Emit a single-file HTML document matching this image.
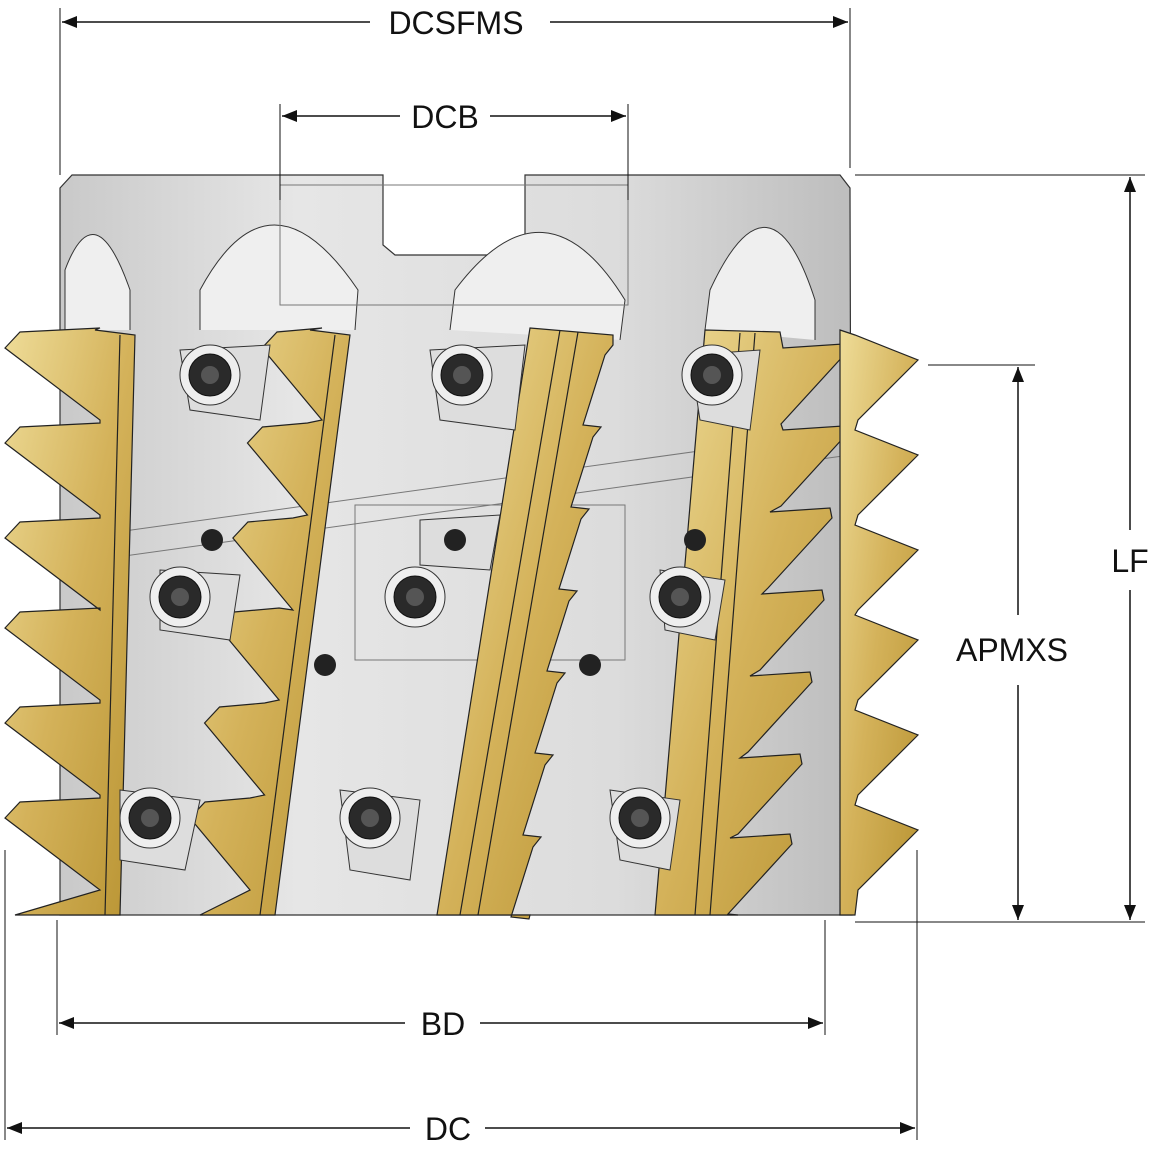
<!DOCTYPE html><html><head><meta charset="utf-8"><style>
body{margin:0;background:#fff;width:1150px;height:1153px;overflow:hidden}
svg{display:block}
text{font-family:"Liberation Sans",sans-serif;font-size:32px;fill:#111}
</style></head><body>
<svg id="s" width="1150" height="1153" viewBox="0 0 1150 1153">
<defs>
<linearGradient id="body" x1="0" x2="1">
<stop offset="0" stop-color="#c9c9c9"/><stop offset=".3" stop-color="#e6e6e6"/><stop offset=".7" stop-color="#dcdcdc"/><stop offset="1" stop-color="#bdbdbd"/></linearGradient>
<linearGradient id="gd" x1="0" x2="1" y1="0" y2="1">
<stop offset="0" stop-color="#eedc98"/><stop offset=".5" stop-color="#d4b25a"/><stop offset="1" stop-color="#b99433"/></linearGradient>
<marker id="a" viewBox="0 0 10 10" refX="10" refY="5" markerWidth="10" markerHeight="10" orient="auto-start-reverse"><path d="M0,1 L10,5 L0,9z" fill="#111"/></marker>
</defs>
<path d="M60,188 L72,175 L383,175 L383,245 L395,255 L515,255 L525,245 L525,175 L840,175 L850,188 L852,915 L60,915 Z" fill="url(#body)" stroke="#333" stroke-width="1.2"/>
<g fill="#efefef" stroke="#333" stroke-width="1">
<path d="M65,330 L65,270 Q95,190 130,290 L130,330"/>
<path d="M200,330 L200,290 Q270,160 358,290 L355,330"/>
<path d="M450,330 L455,290 Q545,170 625,300 L620,340"/>
<path d="M705,330 L710,290 Q770,160 815,300 L815,340"/>
</g>
<g fill="none" stroke="#777" stroke-width="1">
<rect x="280" y="185" width="348" height="120"/><rect x="355" y="505" width="270" height="155"/>
<path d="M60,540 L850,430 M60,565 L850,455"/>
</g>
<g id="goldg"></g>
<g fill="#ddd" stroke="#333" stroke-width="1">
<path d="M180,350 L270,345 L260,420 L190,410Z"/><path d="M430,350 L525,345 L515,430 L440,420Z"/>
<path d="M690,355 L760,350 L750,430 L700,420Z"/>
<path d="M420,520 L500,515 L490,570 L420,565Z"/><path d="M160,570 L240,575 L230,640 L160,630Z"/>
<path d="M660,570 L725,580 L715,640 L665,630Z"/>
<path d="M120,790 L200,800 L185,870 L120,860Z"/><path d="M340,790 L420,800 L410,880 L350,870Z"/>
<path d="M610,790 L680,800 L670,870 L620,860Z"/>
</g>
<g id="screws"></g>
<g stroke="#111" stroke-width="1.5" fill="none">
<line x1="60" y1="8" x2="60" y2="175" stroke-width="1"/><line x1="850" y1="8" x2="850" y2="168" stroke-width="1"/>
<line x1="280" y1="104" x2="280" y2="200" stroke-width="1"/><line x1="628" y1="104" x2="628" y2="200" stroke-width="1"/>
<line x1="855" y1="175" x2="1145" y2="175" stroke-width="1"/><line x1="855" y1="922" x2="1145" y2="922" stroke-width="1"/>
<line x1="928" y1="365" x2="1035" y2="365" stroke-width="1"/>
<line x1="57" y1="920" x2="57" y2="1035" stroke-width="1"/><line x1="825" y1="920" x2="825" y2="1035" stroke-width="1"/>
<line x1="5" y1="850" x2="5" y2="1140" stroke-width="1"/><line x1="917" y1="850" x2="917" y2="1140" stroke-width="1"/>
<line x1="62" y1="22" x2="370" y2="22" marker-start="url(#a)"/><line x1="550" y1="22" x2="848" y2="22" marker-end="url(#a)"/>
<line x1="282" y1="116" x2="400" y2="116" marker-start="url(#a)"/><line x1="490" y1="116" x2="626" y2="116" marker-end="url(#a)"/>
<line x1="1130" y1="177" x2="1130" y2="530" marker-start="url(#a)"/><line x1="1130" y1="590" x2="1130" y2="920" marker-end="url(#a)"/>
<line x1="1018" y1="367" x2="1018" y2="615" marker-start="url(#a)"/><line x1="1018" y1="685" x2="1018" y2="920" marker-end="url(#a)"/>
<line x1="59" y1="1023" x2="405" y2="1023" marker-start="url(#a)"/><line x1="480" y1="1023" x2="823" y2="1023" marker-end="url(#a)"/>
<line x1="7" y1="1128" x2="410" y2="1128" marker-start="url(#a)"/><line x1="485" y1="1128" x2="915" y2="1128" marker-end="url(#a)"/>
</g>
<text x="456" y="34" text-anchor="middle">DCSFMS</text>
<text x="445" y="128" text-anchor="middle">DCB</text>
<text x="1130" y="572" text-anchor="middle">LF</text>
<text x="1012" y="661" text-anchor="middle">APMXS</text>
<text x="443" y="1035" text-anchor="middle">BD</text>
<text x="448" y="1140" text-anchor="middle">DC</text>
</svg>
<script>
var NS="http://www.w3.org/2000/svg",g=document.getElementById('goldg'),sc=document.getElementById('screws');
function P(d,f,p){var e=document.createElementNS(NS,'path');e.setAttribute('d',d);e.setAttribute('fill',f);e.setAttribute('stroke','#222');e.setAttribute('stroke-width','1.2');p.appendChild(e);}
var ys=[360,455,550,640,735,830];
var S=[[5,5,135,120,95],[262,190,350,275,60]];
S.forEach(function(s){
 var d="M"+(s[2]-40)+",330 L"+s[2]+",335 L"+s[3]+",915 L"+(s[1]+10)+",915 ";
 for(var i=ys.length-1;i>=0;i--){var y=ys[i],t=s[0]+(s[1]-s[0])*(y-360)/470,n=t+s[4];
  d+="L"+n+","+(y+60)+" L"+t+","+(y-12)+" L"+(t+15)+","+(y-28)+" L"+n+","+(y-32)+" ";}
 d+="Z";P(d,"url(#gd)",g);
 P("M"+(s[2]-15)+",335 L"+(s[3]-15)+",915",'none',g);
});
(function(){
 var d="M530,328 L613,335 ";
 for(var i=0;i<7;i++){var y=345+i*82,x=613-i*12;d+="L"+x+","+y+" L"+(x-8)+","+(y+10)+" L"+(x-30)+","+(y+80)+" L"+(x-12)+","+(y+82)+" ";}
 d+="L530,915 L437,915 Z";P(d,"url(#gd)",g);
 P("M560,330 L460,915 M578,332 L478,915",'none',g);
})();
(function(){
 var d="M705,330 L780,332 ";
 var tips=[[843,358],[843,440],[830,522],[822,604],[810,686],[800,768],[790,848]];
 tips.forEach(function(p){var t=p[0],y=p[1],n=t-60;d+="L"+n+","+(y-10)+" L"+t+","+(y-14)+" L"+(t+2)+","+(y-4)+" L"+(n-2)+","+(y+66)+" ";});
 d+="L738,915 L655,915 Z";P(d,"url(#gd)",g);
 P("M740,333 L695,915 M755,333 L710,915",'none',g);
})();
var d="M840,330 L855,335 ";
ys.forEach(function(y){d+="L855,"+(y-25)+" L918,"+y+" L858,"+(y+60)+" ";});
d+="L855,915 L840,915Z";P(d,"url(#gd)",g);
[[210,375],[462,375],[712,375],[180,597],[415,597],[680,597],[150,818],[370,818],[640,818]].forEach(function(c){
 var e=document.createElementNS(NS,'circle');e.setAttribute('cx',c[0]);e.setAttribute('cy',c[1]);e.setAttribute('r',30);e.setAttribute('fill','#eee');e.setAttribute('stroke','#333');sc.appendChild(e);
 e=document.createElementNS(NS,'circle');e.setAttribute('cx',c[0]);e.setAttribute('cy',c[1]);e.setAttribute('r',21);e.setAttribute('fill','#2a2a2a');e.setAttribute('stroke','#111');sc.appendChild(e);
 e=document.createElementNS(NS,'circle');e.setAttribute('cx',c[0]);e.setAttribute('cy',c[1]);e.setAttribute('r',9);e.setAttribute('fill','#555');sc.appendChild(e);});
[[212,540],[455,540],[695,540],[325,665],[590,665]].forEach(function(c){var e=document.createElementNS(NS,'circle');e.setAttribute('cx',c[0]);e.setAttribute('cy',c[1]);e.setAttribute('r',11);e.setAttribute('fill','#222');sc.appendChild(e);});
</script>
</body></html>
